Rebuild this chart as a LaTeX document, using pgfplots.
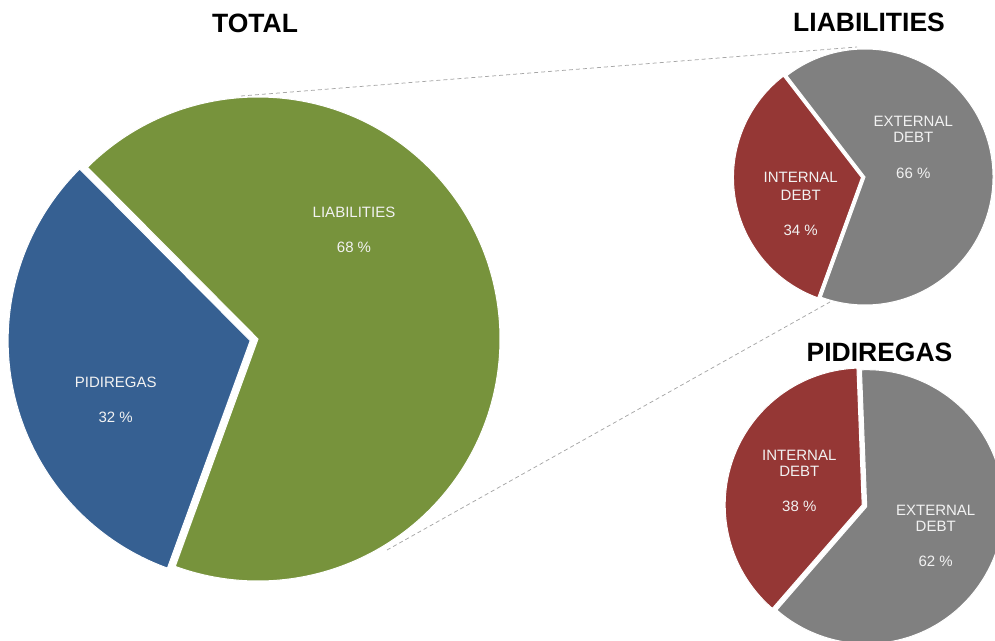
\documentclass[border=0pt]{standalone}
\usepackage{pgfplots}
\usepackage{pgfplotstable}
\usepackage{fontspec}
\setmainfont{Liberation Sans}
\pgfplotsset{compat=1.18}

\definecolor{pgreen}{HTML}{77933C}
\definecolor{pblue}{HTML}{366092}
\definecolor{pred}{HTML}{953735}
\definecolor{pgray}{HTML}{808080}
\definecolor{plab}{HTML}{F2F2F2}
\definecolor{pdash}{HTML}{A6A6A6}

% shares in percent, first slice runs clockwise from the start angle
\pgfplotstableread{
label share
PIDIREGAS 32
LIABILITIES 68
}\totaltab
\pgfplotstableread{
label share
INTERNAL 34
EXTERNAL 66
}\liabtab
\pgfplotstableread{
label share
INTERNAL 38
EXTERNAL 62
}\piditab

% angles
\pgfplotstablegetelem{0}{share}\of\totaltab
\pgfmathsetmacro\tA{250}
\pgfmathsetmacro\tB{250-3.6*\pgfplotsretval}
\pgfmathsetmacro\tC{\tA-360}
\pgfplotstablegetelem{0}{share}\of\liabtab
\pgfmathsetmacro\lA{250}
\pgfmathsetmacro\lB{250-3.6*\pgfplotsretval}
\pgfmathsetmacro\lC{\lA-360}
\pgfplotstablegetelem{0}{share}\of\piditab
\pgfmathsetmacro\pA{229}
\pgfmathsetmacro\pB{229-3.6*\pgfplotsretval}
\pgfmathsetmacro\pC{\pA-360}

% slice: cx, cy, r, from, to, colour
\newcommand\slice[6]{%
  \fill[#6, draw=white, line width=1pt] (axis cs:#1,#2) -- ++(#4:#3pt)
    arc[start angle=#4, end angle=#5, radius=#3pt] -- cycle;}

\begin{document}
\begin{tikzpicture}[
    lab/.style={text=plab, font=\fontsize{15}{18}\selectfont},
    ttl/.style={text=black, font=\fontsize{26.5}{30}\selectfont\bfseries},
]
\useasboundingbox (0,0) rectangle (995pt,640pt);
\clip (0,0) rectangle (995pt,640pt);
\begin{axis}[
    x=1pt, y=1pt,
    xmin=0, xmax=995, ymin=0, ymax=640,
    hide axis,
    clip=false,
]
% connector lines
\draw[pdash, line width=0.75pt, dash pattern=on 4pt off 3pt]
    (axis cs:241,544) -- (axis cs:857,593);
\draw[pdash, line width=0.75pt, dash pattern=on 4pt off 3pt]
    (axis cs:387,90) -- (axis cs:830,338);

% total
\slice{258}{301}{242}{\tB}{\tC}{pgreen}
\slice{250.2}{299.3}{242}{\tA}{\tB}{pblue}
% liabilities
\slice{865}{463}{128}{\lB}{\lC}{pgray}
\slice{861.5}{462.5}{128}{\lA}{\lB}{pred}
% pidiregas
\slice{866.7}{133.3}{137}{\pB}{\pC}{pgray}
\slice{862.2}{135}{137}{\pA}{\pB}{pred}

% labels
\node[lab] at (axis cs:354,427.3) {LIABILITIES};
\node[lab] at (axis cs:354,392.3) {68 \%};
\node[lab] at (axis cs:115.7,258) {PIDIREGAS};
\node[lab] at (axis cs:115.7,222.3) {32 \%};

\node[lab] at (axis cs:913.3,519) {EXTERNAL};
\node[lab] at (axis cs:913.3,502.3) {DEBT};
\node[lab] at (axis cs:913.3,466.7) {66 \%};
\node[lab] at (axis cs:800.7,462.3) {INTERNAL};
\node[lab] at (axis cs:800.7,445) {DEBT};
\node[lab] at (axis cs:800.7,409.3) {34 \%};

\node[lab] at (axis cs:799.3,185) {INTERNAL};
\node[lab] at (axis cs:799.3,168.3) {DEBT};
\node[lab] at (axis cs:799.3,133.3) {38 \%};
\node[lab] at (axis cs:935.7,130) {EXTERNAL};
\node[lab] at (axis cs:935.7,113.3) {DEBT};
\node[lab] at (axis cs:935.7,78.3) {62 \%};

% titles
\node[ttl] at (axis cs:255,617) {TOTAL};
\node[ttl] at (axis cs:869,618) {LIABILITIES};
\node[ttl] at (axis cs:879.5,288) {PIDIREGAS};
\end{axis}
\end{tikzpicture}
\end{document}
